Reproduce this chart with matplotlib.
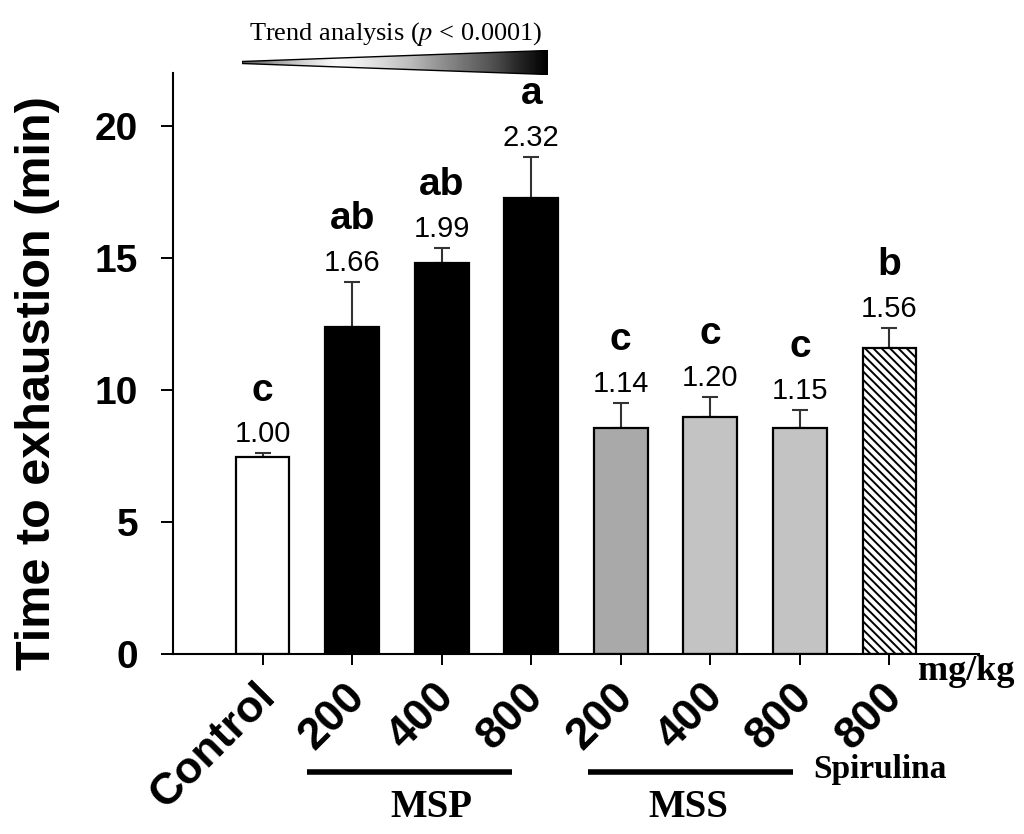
import numpy as np
import matplotlib
matplotlib.use("Agg")
import matplotlib.pyplot as plt
from matplotlib.patches import Polygon
from matplotlib.transforms import blended_transform_factory

# ---- data ----
tick_labels = ["Control", "200", "400", "800", "200", "400", "800", "800"]
means = [7.45, 12.38, 14.82, 17.27, 8.54, 8.98, 8.57, 11.60]
errors = [0.15, 1.70, 0.56, 1.55, 0.96, 0.75, 0.67, 0.74]
ratios = ["1.00", "1.66", "1.99", "2.32", "1.14", "1.20", "1.15", "1.56"]
letters = ["c", "ab", "ab", "a", "c", "c", "c", "b"]
facecolors = ["white", "black", "black", "black", "#a9a9a9", "#c3c3c3", "#c3c3c3", "white"]
hatches = [None, None, None, None, None, None, None, "\\\\\\\\"]

plt.rcParams["font.family"] = ["Liberation Sans", "DejaVu Sans"]
plt.rcParams["hatch.linewidth"] = 1.4
plt.rcParams["mathtext.fontset"] = "stix"

W, H = 1024, 834
fig = plt.figure(figsize=(W / 100, H / 100), dpi=100)

def fx(px):
    return px / W

def fy(py):
    return 1 - py / H

ax = fig.add_axes([fx(173), fy(654), fx(979) - fx(173), fy(73) - fy(654)])

x = np.arange(len(means))
ax.errorbar(x, means, yerr=[np.zeros(len(means)), errors], fmt="none",
            ecolor="#333333", elinewidth=1.5, capsize=6, capthick=1.5, zorder=1)
bars = ax.bar(x, means, width=0.6, color=facecolors, edgecolor="black",
              linewidth=1.6, zorder=2)
for b, h in zip(bars, hatches):
    if h:
        b.set_hatch(h)

for xi, m, e, r, l in zip(x, means, errors, ratios, letters):
    ax.annotate(r, (xi, m + e), xytext=(0, 8), textcoords="offset points",
                ha="center", va="baseline", fontsize=21)
    ax.annotate(l, (xi, m + e), xytext=(0, 38), textcoords="offset points",
                ha="center", va="baseline", fontsize=28, fontweight="bold")

ax.set_xlim(-1, 8)
ax.set_ylim(0, 22)
ax.set_yticks([0, 5, 10, 15, 20])
ax.set_xticks(x)
ax.set_xticklabels([])
# rotated category labels, anchored at each tick
for xi, lab in zip(x, tick_labels):
    ax.annotate(lab, (xi, 0), xycoords=ax.get_xaxis_transform(),
                xytext=(4.5, -26), textcoords="offset points", rotation=45,
                rotation_mode="anchor", ha="right", va="center",
                fontsize=32, fontweight="bold", annotation_clip=False)
for lab in ax.get_yticklabels():
    lab.set_fontweight("bold")
    lab.set_fontsize(28)
ax.tick_params(axis="y", direction="out", length=9, width=1.4, pad=16)
ax.tick_params(axis="x", direction="out", length=8, width=1.4)
for s in ["top", "right"]:
    ax.spines[s].set_visible(False)
for s in ["left", "bottom"]:
    ax.spines[s].set_linewidth(1.5)

# y label
fig.text(fx(38), fy(383), "Time to exhaustion (min)", rotation=90, ha="center",
         va="center", fontsize=35, fontweight="bold")

# group annotations below axis
tr = blended_transform_factory(ax.transData, fig.transFigure)
serif = ["Liberation Serif", "DejaVu Serif"]
ax.plot([0.5, 2.79], [fy(772), fy(772)], transform=tr, color="black", lw=4,
        clip_on=False, solid_capstyle="butt")
ax.plot([3.63, 5.92], [fy(772), fy(772)], transform=tr, color="black", lw=4,
        clip_on=False, solid_capstyle="butt")
fig.text(fx(431), fy(817), "MSP", ha="center", va="baseline", fontsize=28,
         fontweight="bold", family=serif)
fig.text(fx(688), fy(817), "MSS", ha="center", va="baseline", fontsize=28,
         fontweight="bold", family=serif)
fig.text(fx(880), fy(778), "Spirulina", ha="center", va="baseline", fontsize=24,
         fontweight="bold", family=serif)
fig.text(fx(966), fy(680), "mg/kg", ha="center", va="baseline", fontsize=26,
         fontweight="bold", family=serif)

# trend analysis wedge
fig.text(fx(396), fy(40), "Trend analysis ($\\it{p}$ < 0.0001)", ha="center",
         va="baseline", fontsize=19, family=serif)
wax = fig.add_axes([fx(242), fy(75), fx(548) - fx(242), fy(50) - fy(75)])
wax.set_xlim(0, 1)
wax.set_ylim(0, 1)
wax.axis("off")
poly = Polygon([(0, 0.46), (1, 0.02), (1, 0.98), (0, 0.54)], closed=True,
               facecolor="none", edgecolor="black", lw=1.0)
wax.add_patch(poly)
grad = np.concatenate([np.linspace(0.7, 0.05, 80), np.linspace(0.05, 1.0, 176)])
img = wax.imshow(grad[None, :], cmap="Greys", extent=[0, 1, 0, 1],
                 aspect="auto", vmin=0, vmax=1)
img.set_clip_path(poly)

fig.savefig("out.png", dpi=100)
